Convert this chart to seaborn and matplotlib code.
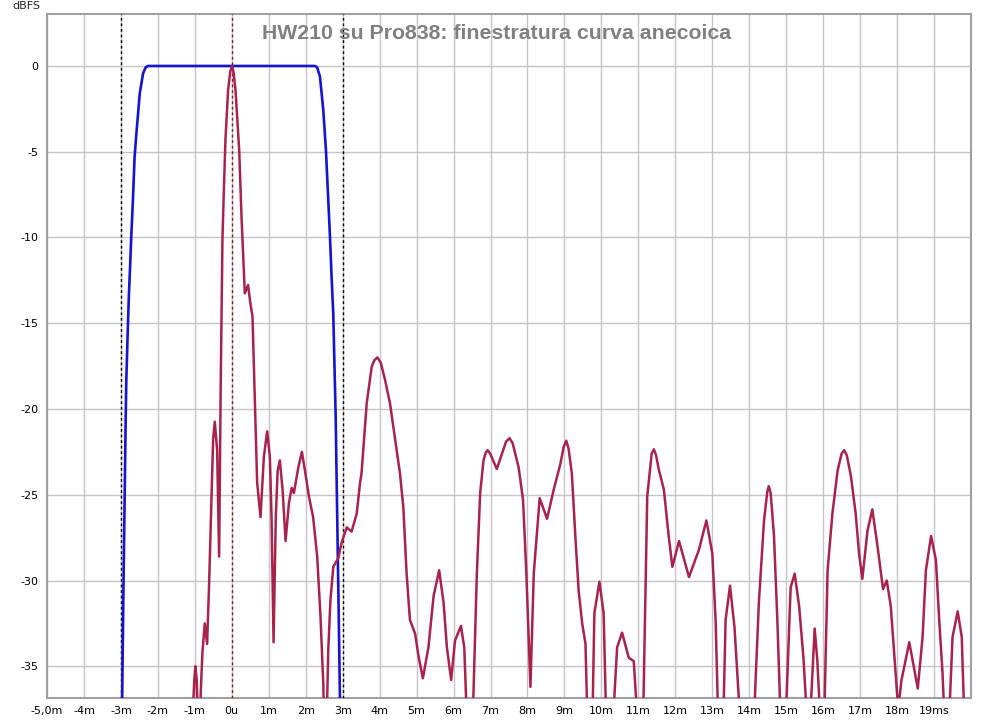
import numpy as np
import pandas as pd
import matplotlib
matplotlib.use("Agg")
import matplotlib.pyplot as plt
import seaborn as sns

# ---- data ----
title = "HW210 su Pro838: finestratura curva anecoica"
x_ticks = list(range(-5, 20))
x_tick_labels = ["-5,0m", "-4m", "-3m", "-2m", "-1m", "0u", "1m", "2m", "3m", "4m",
                 "5m", "6m", "7m", "8m", "9m", "10m", "11m", "12m", "13m", "14m",
                 "15m", "16m", "17m", "18m", "19ms"]
y_ticks = [0, -5, -10, -15, -20, -25, -30, -35]
y_tick_labels = ["0", "-5", "-10", "-15", "-20", "-25", "-30", "-35"]

# window (blue)
win_t = [-3.00, -2.967, -2.93, -2.87, -2.854, -2.82, -2.785, -2.75, -2.72, -2.675,
         -2.63, -2.58, -2.49, -2.40, -2.33, -2.27, 2.25, 2.31, 2.385, 2.475, 2.547,
         2.61, 2.656, 2.70, 2.746, 2.81, 2.88, 2.927, 2.96]
win_db = [-60, -37, -30.2, -20.4, -18.3, -15.8, -13.4, -11.6, -9.95, -7.8,
          -5.3, -3.9, -1.6, -0.43, -0.08, 0, 0, -0.08, -0.62, -2.57, -4.9,
          -7.8, -9.95, -12.3, -14.5, -20.4, -30.2, -37, -60]

# impulse response (red)
ir_t = [-1.12, -1.05, -1.015, -0.985, -0.95, -0.886, -0.84, -0.795, -0.732, -0.668,
        -0.614, -0.551, -0.506, -0.46, -0.397, -0.343, -0.30, -0.253, -0.217, -0.172,
        -0.10, -0.04, 0.01, 0.05, 0.10, 0.20, 0.263, 0.307, 0.352, 0.40,
        0.44, 0.50, 0.56, 0.623, 0.686, 0.777, 0.867, 0.957, 1.03, 1.075,
        1.13, 1.19, 1.24, 1.30, 1.374, 1.455, 1.545, 1.62, 1.68, 1.80,
        1.897, 1.98, 2.087, 2.2, 2.31, 2.4, 2.475, 2.53, 2.61, 2.67,
        2.746, 2.88, 2.97, 3.11, 3.24, 3.38, 3.47, 3.51, 3.65, 3.786,
        3.86, 3.94, 4.03, 4.146, 4.28, 4.42, 4.55, 4.64, 4.73, 4.82, 4.96, 5.05,
        5.17, 5.32, 5.46, 5.61, 5.73, 5.82, 5.935, 6.04, 6.2, 6.29,
        6.36, 6.44, 6.52, 6.63, 6.72, 6.81, 6.87, 6.92, 6.99, 7.17, 7.42, 7.515, 7.6, 7.76,
        7.88, 7.97, 8.08, 8.17, 8.33, 8.53, 8.71, 8.89, 8.98, 9.05, 9.11, 9.2,
        9.3, 9.385, 9.48, 9.57, 9.7, 9.81, 9.946, 10.06, 10.15, 10.24,
        10.32, 10.425, 10.56, 10.74, 10.875, 10.97, 11.05, 11.13, 11.24, 11.36, 11.42,
        11.48, 11.55, 11.69, 11.82, 11.92, 12.1, 12.37, 12.64, 12.84, 13.0, 13.09,
        13.16, 13.23, 13.3, 13.36, 13.48, 13.6, 13.75, 13.94, 14.13, 14.26,
        14.4, 14.49, 14.53, 14.58, 14.67, 14.76, 14.85, 14.92, 14.99, 15.12, 15.23, 15.35,
        15.47, 15.56, 15.6, 15.65, 15.77, 15.84, 15.92, 15.97, 16.03, 16.12,
        16.25, 16.39, 16.5, 16.57, 16.64, 16.75, 16.88, 16.97, 17.06, 17.2, 17.33, 17.47,
        17.62, 17.72, 17.83, 17.92, 18.03, 18.12, 18.33, 18.56, 18.69, 18.78,
        18.92, 19.05, 19.14, 19.23, 19.32, 19.41, 19.5, 19.64, 19.75, 19.82,
        19.9]
ir_db = [-50, -37.5, -35.8, -35.0, -35.8, -40, -36.5, -34.2, -32.5, -33.7,
         -30.2, -25.3, -21.8, -20.74, -22.4, -28.6, -18.5, -10.1, -7.4, -4.3,
         -1.4, -0.3, 0.0, -0.4, -1.4, -4.9, -8.8, -11.0, -13.25, -13.0,
         -12.77, -13.8, -14.6, -19.5, -24.3, -26.3, -22.8, -21.3, -22.8, -26.3,
         -33.6, -26.3, -23.6, -23.0, -24.7, -27.7, -25.5, -24.6, -24.9, -23.4,
         -22.5, -23.6, -25.1, -26.3, -28.6, -32.1, -36.0, -42, -34.05, -31.1,
         -29.2, -28.7, -27.8, -26.9, -27.15, -26.1, -24.3, -23.75, -19.67, -17.53,
         -17.15, -16.99, -17.3, -18.3, -19.67, -21.8, -23.75, -25.7, -29.6, -32.3, -33.1, -34.4,
         -35.7, -33.9, -30.9, -29.4, -31.3, -33.9, -35.8, -33.5, -32.65, -33.9,
         -38, -50, -38, -29.6, -24.9, -23.0, -22.55, -22.4, -22.6, -23.5, -21.9, -21.7, -22.0, -23.4,
         -25.3, -29.6, -36.2, -29.6, -25.2, -26.4, -24.7, -23.2, -22.2, -21.85, -22.3, -23.75,
         -27.6, -30.6, -32.5, -33.7, -45, -31.9, -30.07, -31.9, -40, -50,
         -38, -33.9, -33.04, -34.5, -34.7, -38, -50, -38, -25.1, -22.6, -22.35,
         -22.7, -23.5, -24.7, -27.4, -29.2, -27.7, -29.8, -28.2, -26.5, -28.4, -32.3,
         -38, -50, -38, -32.3, -30.3, -32.7, -38, -50, -38, -31.3,
         -26.5, -24.8, -24.5, -24.9, -27.4, -32.3, -38, -50, -38, -30.4, -29.6, -31.5,
         -34.6, -38, -50, -38, -32.8, -34.6, -38, -50, -38, -29.4,
         -26.1, -23.6, -22.6, -22.4, -22.7, -23.9, -26.1, -28.4, -29.9, -27.1, -25.85, -28.0,
         -30.5, -30.0, -31.5, -34.2, -37.5, -35.8, -33.6, -36.3, -33.3, -29.4,
         -27.4, -28.8, -32.3, -35.4, -40, -38, -33.3, -31.8, -33.3, -38,
         -50]

gate_lines = [-3, 3]
peak_line = 0

# ---- plot ----
sns.set_style("whitegrid", {"grid.color": "#C4C4C4", "axes.edgecolor": "#A0A0A0"})
plt.rcParams["font.family"] = ["DejaVu Sans"]

fig = plt.figure(figsize=(9.93, 7.21), dpi=100)
ax = fig.add_axes([47 / 993, 1 - 698 / 721, (971 - 47) / 993, (698 - 14) / 721])

win_df = pd.DataFrame({"t": win_t, "db": win_db})
ir_df = pd.DataFrame({"t": ir_t, "db": ir_db})

for g in gate_lines:
    ax.axvline(g, color="black", lw=1.0, ls=(0, (2, 2)), zorder=3)
ax.axvline(peak_line, color="#8B1A1A", lw=1.0, ls=(0, (2, 2)), zorder=3)

sns.lineplot(data=win_df, x="t", y="db", ax=ax, color="#1414D2", lw=1.9,
             estimator=None, sort=False, zorder=4)
sns.lineplot(data=ir_df, x="t", y="db", ax=ax, color="#A8234B", lw=1.8,
             estimator=None, sort=False, zorder=5)

ax.set_xlim(-5, 20)
ax.set_ylim(-36.85, 3.03)
ax.set_xticks(x_ticks)
ax.set_xticklabels(x_tick_labels, fontsize=8)
ax.set_yticks(y_ticks)
ax.set_yticklabels(y_tick_labels, fontsize=8)
ax.tick_params(axis="both", length=0, pad=6, colors="black")
ax.set_xlabel("")
ax.set_ylabel("")
ax.grid(True, color="#C4C4C4", lw=1.0)
for s in ax.spines.values():
    s.set_color("#A0A0A0")
    s.set_linewidth(1.5)

ax.text(0.487, 0.985, title, transform=ax.transAxes, ha="center", va="top",
        fontsize=15.3, fontweight="bold", color="#808080",
        family=["Liberation Sans", "DejaVu Sans"], zorder=6)
fig.text(12 / 993, 1 - 6 / 721, "dBFS", ha="left", va="center", fontsize=8)

fig.savefig("out.png", dpi=100)
